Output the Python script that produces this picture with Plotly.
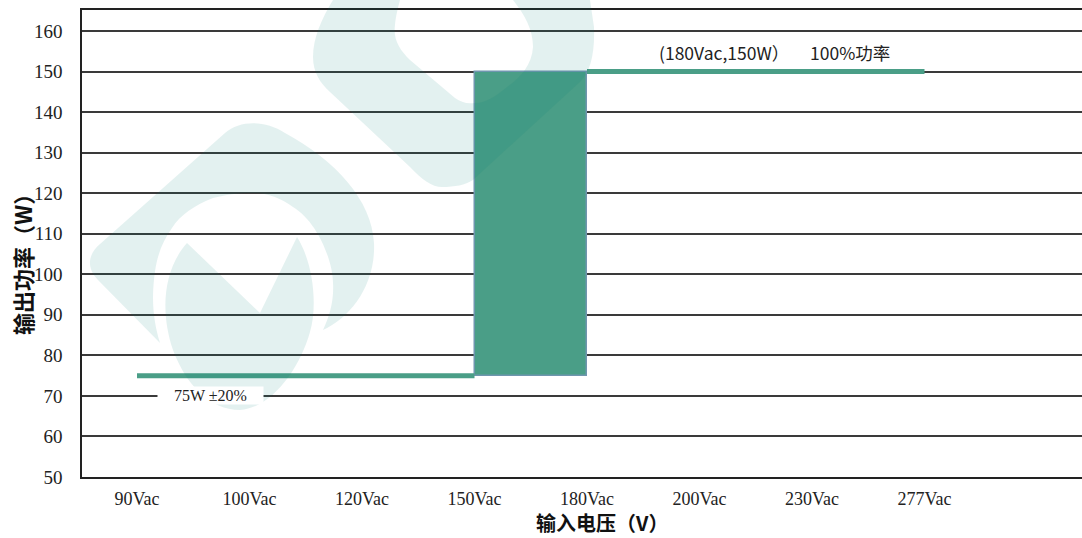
import plotly.graph_objects as go

# Input voltage categories and output power levels
categories = ["90Vac", "100Vac", "120Vac", "150Vac", "180Vac", "200Vac", "230Vac", "277Vac"]
low_voltages = ["90Vac", "100Vac", "120Vac", "150Vac"]
low_power = [75, 75, 75, 75]
high_voltages = ["180Vac", "200Vac", "230Vac", "277Vac"]
high_power = [150, 150, 150, 150]
band_start, band_end = "150Vac", "180Vac"
band_low, band_high = 75, 150
y_ticks = [50, 60, 70, 80, 90, 100, 110, 120, 130, 140, 150, 160]

W, H = 1082, 538
ML, MR, MT, MB = 82, 0, 10, 61
pos = {c: i for i, c in enumerate(categories)}

GREEN = "#4a9e87"
EDGE = "#6f96ae"
GRID = "#3a3a3a"

fig = go.Figure()

# transition band between 150Vac and 180Vac
b0, b1 = pos[band_start], pos[band_end]
fig.add_trace(go.Bar(
    x=[(b0 + b1) / 2], y=[band_high - band_low], base=[band_low],
    width=[b1 - b0], marker=dict(color=GREEN, line=dict(color=EDGE, width=1.5)),
    hoverinfo="skip", showlegend=False,
))

fig.add_trace(go.Scatter(
    x=[pos[c] for c in low_voltages], y=low_power, mode="lines",
    line=dict(color=GREEN, width=5), showlegend=False,
))
fig.add_trace(go.Scatter(
    x=[pos[c] for c in high_voltages], y=high_power, mode="lines",
    line=dict(color=GREEN, width=5), showlegend=False,
))

serif = "Liberation Serif"
cjk = "Noto Sans CJK SC"
pw, ph = W - ML - MR, H - MT - MB

annotations = [
    dict(x=0.65, y=70, xref="x", yref="y",
         text="\u00a0\u00a0\u00a0\u00a075W ±20%\u00a0\u00a0\u00a0\u00a0",
         showarrow=False, bgcolor="white", borderpad=0,
         font=dict(family=serif, size=16, color="#222")),
    dict(x=pos[band_end] + 0.62, y=154.8, xref="x", yref="y", xanchor="left",
         text="(180Vac,150W）", showarrow=False,
         font=dict(family=cjk, size=17.5, color="#222")),
    dict(x=pos[band_end] + 1.96, y=154.8, xref="x", yref="y", xanchor="left",
         text="100%功率", showarrow=False,
         font=dict(family=cjk, size=17.5, color="#222")),
    dict(x=(602 - ML) / pw, y=(H - MB - 522) / ph,
         xref="paper", yref="paper", xanchor="center", yanchor="middle",
         text="<b>输入电压（V）</b>", showarrow=False,
         font=dict(family=cjk, size=20, color="#111")),
    dict(x=(22 - ML) / pw, y=(H - MB - 259) / ph,
         xref="paper", yref="paper", xanchor="center", yanchor="middle",
         text="<b>输出功率（W）</b>", showarrow=False,
         textangle=-90, font=dict(family=cjk, size=22, color="#111")),
]

# faint logo watermark, drawn in pixel coordinates and mapped to paper space


def P(x, y):
    return f"{(x - ML) / pw:.4f},{(H - MB - y) / ph:.4f}"


def path(cmds):
    return " ".join(c if isinstance(c, str) else P(*c) for c in cmds)


horseshoe = path([
    "M", (160, 343), "L", (98, 280), "C", (86, 268), (88, 254), (100, 244),
    "L", (225, 133), "C", (240, 120), (265, 120), (285, 133),
    "C", (335, 160), (372, 200), (374, 243), "C", (376, 285), (350, 318), (323, 330),
    "C", (330, 315), (334, 300), (333, 283),
    "C", (333, 262), (318, 222), (293, 207), "C", (280, 198), (268, 193), (253, 193),
    "C", (238, 193), (225, 195), (213, 198), "C", (195, 205), (180, 215), (172, 228),
    "C", (160, 245), (154, 262), (153, 297), "C", (153, 315), (156, 330), (160, 343), "Z",
])
drop = path([
    "M", (187, 243), "L", (260, 313), "L", (297, 237),
    "C", (313, 262), (318, 305), (310, 332), "C", (300, 368), (272, 408), (240, 410),
    "C", (210, 410), (186, 385), (173, 350), "C", (160, 312), (163, 270), (187, 243), "Z",
])
top_ring = path([
    "M", (333, 0), "C", (322, 18), (313, 38), (313, 57),
    "C", (313, 72), (320, 83), (330, 92), "L", (410, 167),
    "C", (422, 180), (432, 187), (442, 187), "C", (455, 187), (465, 185), (473, 180),
    "L", (580, 82), "C", (590, 72), (595, 55), (594, 27), "L", (590, 0), "L", (513, 0),
    "C", (525, 15), (533, 30), (533, 47), "C", (532, 65), (520, 78), (507, 87),
    "C", (495, 97), (485, 103), (475, 103), "C", (466, 104), (461, 102), (455, 98),
    "L", (410, 60), "C", (400, 50), (393, 40), (395, 25),
    "C", (396, 15), (398, 8), (400, 0), "Z",
])

shapes = [
    dict(type="path", path=d, xref="paper", yref="paper",
         fillcolor="rgba(0,130,120,0.11)", line=dict(width=0), layer="above")
    for d in (horseshoe, drop, top_ring)
]

fig.update_layout(
    width=W, height=H,
    margin=dict(l=ML, r=MR, t=MT, b=MB, pad=0),
    paper_bgcolor="white", plot_bgcolor="white",
    bargap=0,
    xaxis=dict(
        range=[(ML - 137) / 112.5, (W - MR - 137) / 112.5],
        tickvals=list(range(len(categories))), ticktext=categories,
        showgrid=False, zeroline=False, ticks="",
        showline=True, linecolor="#222", linewidth=1.5, mirror=True,
        tickfont=dict(family=serif, size=18, color="#222"),
        ticklabelstandoff=5,
    ),
    yaxis=dict(
        range=[50, 50 + ph / (446 / 110)],
        tickvals=y_ticks, showgrid=True, gridcolor=GRID, gridwidth=1.5,
        zeroline=False, ticks="",
        showline=True, linecolor="#222", linewidth=1.5,
        tickfont=dict(family=serif, size=19, color="#222"),
        ticklabelstandoff=14,
    ),
    annotations=annotations,
    shapes=shapes,
    showlegend=False,
)

fig.write_html("out.html")
